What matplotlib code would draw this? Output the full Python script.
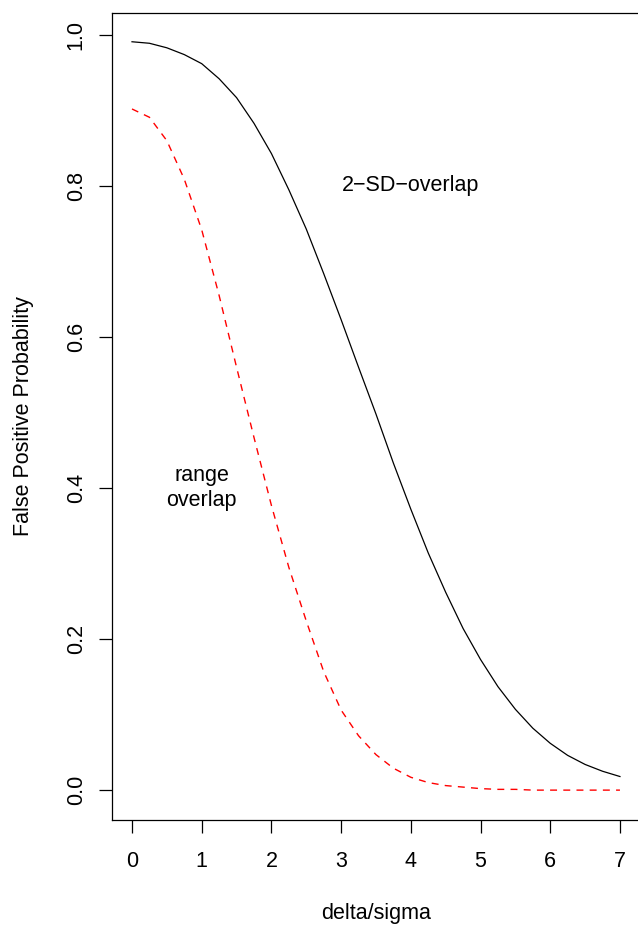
import matplotlib
matplotlib.use("Agg")
import matplotlib.pyplot as plt
import numpy as np

plt.rcParams['font.family'] = ['Liberation Sans', 'DejaVu Sans']

# delta/sigma grid and the two curves
delta = np.arange(0, 7.01, 0.25)
sd_overlap = [0.991, 0.989, 0.983, 0.974, 0.962, 0.942, 0.917, 0.883, 0.843,
              0.795, 0.743, 0.684, 0.623, 0.560, 0.498, 0.433, 0.372, 0.314,
              0.262, 0.214, 0.173, 0.137, 0.107, 0.082, 0.062, 0.046, 0.034,
              0.025, 0.018]
range_overlap = [0.902, 0.891, 0.860, 0.809, 0.742, 0.655, 0.560, 0.467, 0.377,
                 0.295, 0.224, 0.157, 0.106, 0.072, 0.047, 0.029, 0.017, 0.010,
                 0.006, 0.004, 0.002, 0.001, 0.001, 0.0, 0.0, 0.0, 0.0,
                 0.0, 0.0]

xticks = [0, 1, 2, 3, 4, 5, 6, 7]
yticks = [0.0, 0.2, 0.4, 0.6, 0.8, 1.0]
ytick_labels = ['0.0', '0.2', '0.4', '0.6', '0.8', '1.0']

fig = plt.figure(figsize=(6.38, 9.27), dpi=100)
ax = fig.add_axes([0.1763, 0.1154, 0.826, 0.871])

ax.plot(delta, sd_overlap, color='black', lw=0.9)
ax.plot(delta, range_overlap, color='red', lw=1.0, linestyle=(0, (5, 4.5)))

ax.text(4, 0.8, '2\u2212SD\u2212overlap', fontsize=15.5, ha='center', va='center')
ax.text(1, 0.4, 'range\noverlap', fontsize=15.5, ha='center', va='center',
        linespacing=1.3)

ax.set_xlim(-0.28, 7.28)
ax.set_ylim(-0.0396, 1.0296)
ax.set_xticks(xticks)
ax.set_yticks(yticks)
ax.set_yticklabels(ytick_labels, rotation=90, va='center')
ax.tick_params(axis='both', length=9.5, width=0.9, labelsize=15.5)
ax.tick_params(axis='x', pad=13)
ax.tick_params(axis='y', pad=9)
for s in ax.spines.values():
    s.set_linewidth(0.9)

ax.set_xlabel('delta/sigma', fontsize=15.5)
ax.set_ylabel('False Positive Probability', fontsize=15.5)
ax.xaxis.set_label_coords(0.5, -0.103)
ax.yaxis.set_label_coords(-0.149, 0.5)

plt.savefig("out.png", dpi=100)
